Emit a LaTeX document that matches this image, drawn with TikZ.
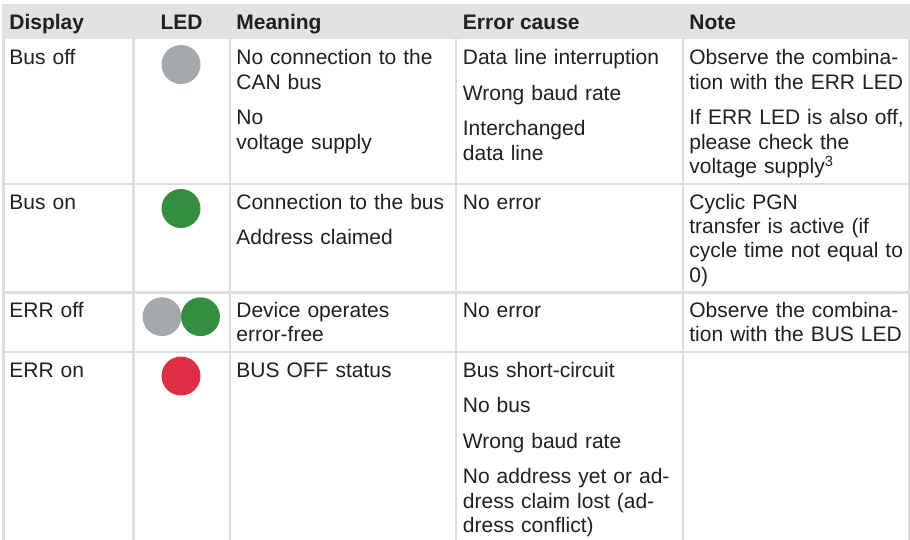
\documentclass[tikz,border=0pt]{standalone}
\usepackage{fontspec}
\setmainfont{Liberation Sans}
\usepackage{xcolor}
\usepackage{tikz}
\definecolor{rulegray}{HTML}{DCDDE0}
\definecolor{headgray}{HTML}{E1E2E4}
\definecolor{txt}{HTML}{231F20}
\definecolor{ledgray}{HTML}{A3A9AD}
\definecolor{ledgreen}{HTML}{338F3F}
\definecolor{ledred}{HTML}{E02F45}
\begin{document}
\begin{tikzpicture}[x=0.5pt,y=-0.5pt,
	cell/.style={anchor=base west,inner sep=0pt,text width=#1,align=left,text=txt,font=\fontsize{10.5}{12.25}\selectfont},
	cell/.default=112pt,
	head/.style={anchor=base west,inner sep=0pt,text=txt,font=\fontsize{10.5}{12.25}\selectfont\bfseries},
	rule/.style={rulegray,line width=1.35pt}]
		\useasboundingbox (0,0) rectangle (910,540);
		% header band and grid
		\fill[headgray] (2,4) rectangle (910,39.5);
		\foreach \x in {3.5,133.5,230,456,683,909}
			\draw[rule] (\x,39) -- (\x,540);
		\foreach \y in {184,292.7,352}
			\draw[rule] (3.5,\y) -- (909,\y);
		% header texts
		\node[head] (hdisp) at (9,30) {Display};
		\node[head,anchor=base] (hled) at (181.5,30) {LED};
		\node[head] (hmean) at (236,30) {Meaning};
		\node[head] (hcause) at (462.5,30) {Error cause};
		\node[head] (hnote) at (689,30) {Note};
		% row 1
		\node[cell=58pt] (busoff) at (9,65) {Bus off};
		\fill[ledgray] (181,64.5) circle[radius=19.5];
		\node[cell] (busoffmean) at (236,65) {No connection to the\\CAN bus\\[5.5pt]No\\voltage supply};
		\node[cell] (busoffcause) at (462.5,65) {Data line interruption\\[5.5pt]Wrong baud rate\\[5.5pt]Interchanged\\data line};
		\node[cell] (busoffnote) at (689,65) {Observe the combina-\\tion with the ERR LED\\[5.5pt]If ERR LED is also off,\\please check the\\voltage supply\textsuperscript{3}};
		% row 2
		\node[cell=58pt] (buson) at (9,209) {Bus on};
		\fill[ledgreen] (181,208.5) circle[radius=19.5];
		\node[cell] (busonmean) at (236,209) {Connection to the bus\\[5.5pt]Address claimed};
		\node[cell] (busoncause) at (462.5,209) {No error};
		\node[cell] (busonnote) at (689,209) {Cyclic PGN\\transfer is active (if\\cycle time not equal to\\0)};
		% row 3
		\node[cell=58pt] (erroff) at (9,317) {ERR off};
		\fill[ledgray] (162,316.7) circle[radius=19.4];
		\fill[ledgreen] (200.5,316.7) circle[radius=19.4];
		\node[cell] (erroffmean) at (236,317) {Device operates\\error-free};
		\node[cell] (erroffcause) at (462.5,317) {No error};
		\node[cell] (erroffnote) at (689,317) {Observe the combina-\\tion with the BUS LED};
		% row 4
		\node[cell=58pt] (erron) at (9,377) {ERR on};
		\fill[ledred] (181,376) circle[radius=19.5];
		\node[cell] (erronmean) at (236,377) {BUS OFF status};
		\node[cell] (erroncause) at (462.5,377) {Bus short-circuit\\[5.5pt]No bus\\[5.5pt]Wrong baud rate\\[5.5pt]No address yet or ad-\\dress claim lost (ad-\\dress conflict)};
	\end{tikzpicture}
\end{document}
